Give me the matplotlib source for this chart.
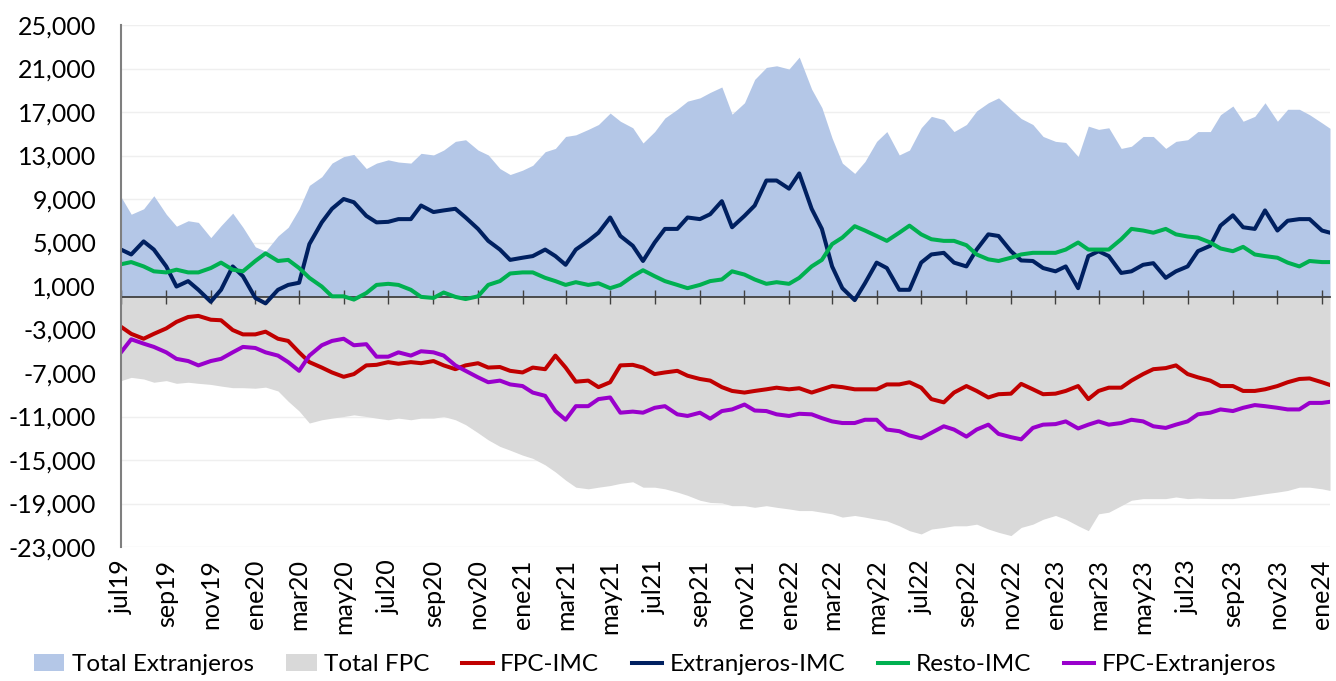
import pandas as pd
import matplotlib
matplotlib.use('Agg')
import matplotlib.pyplot as plt
from matplotlib.ticker import FuncFormatter

plt.rcParams['font.family'] = ['Lato', 'DejaVu Sans']

# quincenal (1 y 15 de cada mes) desde jul19 + último dato
fechas = list(pd.date_range('2019-07-01', '2024-01-01', freq='SMS')) + [pd.Timestamp('2024-01-12')]

total_ext = [
    9200, 7600, 8100, 9300, 7600, 6500, 7000, 6850, 5450, 6550, 7700, 6400,
    4600, 4200, 5600, 6400, 8100, 10250, 11050, 12300, 12900, 13100, 11800, 12300,
    12600, 12400, 12300, 13200, 13050, 13500, 14300, 14450, 13500, 13050, 11800, 11250,
    11650, 12100, 13350, 13650, 14750, 14900, 15400, 15850, 16900, 16150, 15550, 14150,
    15200, 16450, 17250, 18000, 18300, 18800, 19300, 16800, 17850, 20000, 21100, 21250,
    20950, 22050, 19100, 17400, 14600, 12300, 11350, 12450, 14300, 15200, 13050, 13500,
    15550, 16600, 16300, 15200, 15850, 17100, 17850, 18300, 17250, 16400, 15850, 14750,
    14300, 14200, 12900, 15700, 15400, 15550, 13650, 13850, 14750, 14750, 13650, 14300,
    14450, 15200, 15200, 16750, 17550, 16150, 16600, 17850, 16150, 17250, 17250, 16750,
    16000, 15500]

total_fpc = [
    -7700, -7400, -7550, -7850, -7700, -7950, -7850, -7950, -8050, -8200, -8350, -8350,
    -8400, -8300, -8650, -9600, -10500, -11600, -11300, -11150, -11000, -10850, -11000, -11150,
    -11300, -11150, -11300, -11150, -11150, -11000, -11300, -11750, -12500, -13150, -13750, -14100,
    -14550, -14850, -15450, -16100, -16850, -17500, -17650, -17500, -17350, -17150, -17000, -17500,
    -17500, -17650, -17950, -18250, -18700, -18900, -18950, -19200, -19200, -19350, -19200, -19350,
    -19500, -19650, -19650, -19800, -19950, -20250, -20100, -20250, -20450, -20600, -21050, -21500,
    -21800, -21350, -21200, -21050, -21050, -20900, -21350, -21650, -21950, -21200, -20900, -20450,
    -20100, -20450, -21050, -21500, -19950, -19800, -19200, -18700, -18550, -18550, -18550, -18400,
    -18550, -18500, -18550, -18550, -18550, -18400, -18250, -18100, -17950, -17800, -17500, -17500,
    -17650, -17800]

fpc_imc = [
    -2750, -3400, -3850, -3400, -2900, -2300, -1850, -1750, -2100, -2150, -3050, -3450,
    -3450, -3200, -3850, -4050, -5100, -6000, -6500, -6950, -7350, -7100, -6300, -6250,
    -6000, -6150, -6000, -6100, -5900, -6300, -6650, -6300, -6100, -6500, -6450, -6800,
    -6950, -6500, -6650, -5400, -6500, -7800, -7700, -8300, -7850, -6300, -6250, -6500,
    -7100, -6950, -6800, -7250, -7550, -7700, -8300, -8650, -8800, -8650, -8500, -8350,
    -8500, -8400, -8800, -8500, -8200, -8300, -8500, -8500, -8500, -8050, -8050, -7850,
    -8350, -9400, -9700, -8800, -8200, -8650, -9250, -8950, -8900, -8000, -8500, -8950,
    -8900, -8650, -8200, -9400, -8650, -8350, -8350, -7700, -7100, -6650, -6550, -6300,
    -7100, -7400, -7700, -8200, -8200, -8650, -8650, -8500, -8200, -7850, -7550, -7500,
    -7850, -8100]

ext_imc = [
    4350, 3900, 5100, 4350, 2800, 950, 1450, 650, -450, 650, 2800, 1900,
    -100, -600, 650, 1100, 1300, 4850, 6850, 8100, 9000, 8700, 7450, 6850,
    6900, 7150, 7150, 8400, 7800, 7950, 8100, 7300, 6250, 5150, 4350, 3400,
    3600, 3750, 4350, 3750, 2950, 4350, 5150, 5900, 7300, 5600, 4700, 3300,
    5000, 6250, 6250, 7300, 7150, 7600, 8800, 6400, 7450, 8400, 10700, 10700,
    9950, 11350, 8100, 6250, 2800, 800, -300, 1250, 3150, 2650, 650, 650,
    3150, 3900, 4050, 3150, 2800, 4350, 5750, 5600, 4200, 3350, 3300, 2650,
    2350, 2800, 800, 3750, 4200, 3750, 2200, 2350, 2950, 3100, 1750, 2350,
    2800, 4200, 4700, 6550, 7500, 6400, 6250, 7950, 6100, 7000, 7150, 7150,
    6100, 5900]

resto_imc = [
    3000, 3200, 2800, 2350, 2250, 2500, 2250, 2250, 2650, 3150, 2500, 2350,
    3300, 4000, 3300, 3400, 2650, 1750, 950, 50, 50, -250, 350, 1100,
    1200, 1100, 650, 0, -100, 400, 0, -200, 50, 1100, 1450, 2150,
    2250, 2250, 1750, 1450, 1100, 1350, 1100, 1250, 800, 1100, 1900, 2450,
    1900, 1450, 1100, 800, 1100, 1450, 1600, 2350, 2050, 1600, 1200, 1350,
    1200, 1750, 2800, 3400, 4850, 5450, 6500, 6100, 5600, 5150, 5900, 6550,
    5750, 5300, 5150, 5150, 4750, 3900, 3450, 3300, 3600, 3900, 4050, 4050,
    4050, 4350, 5000, 4350, 4350, 4350, 5300, 6250, 6100, 5900, 6250, 5750,
    5550, 5450, 5000, 4450, 4200, 4600, 3900, 3750, 3600, 3150, 2800, 3300,
    3200, 3200]

fpc_ext = [
    -5100, -3900, -4300, -4600, -5100, -5700, -5900, -6300, -5900, -5700, -5100, -4600,
    -4700, -5100, -5400, -6000, -6800, -5400, -4450, -4050, -3850, -4450, -4350, -5500,
    -5500, -5100, -5400, -5000, -5100, -5400, -6300, -6800, -7400, -7850, -7700, -8050,
    -8200, -8800, -9100, -10500, -11300, -10050, -10050, -9400, -9250, -10650, -10550, -10650,
    -10200, -10050, -10800, -10950, -10650, -11200, -10500, -10350, -9900, -10450, -10500, -10800,
    -10950, -10750, -10800, -11150, -11450, -11600, -11600, -11300, -11300, -12200, -12350, -12750,
    -13000, -12500, -11900, -12200, -12850, -12200, -11750, -12600, -12900, -13100, -12050, -11750,
    -11700, -11450, -12100, -11750, -11450, -11750, -11600, -11300, -11450, -11900, -12050, -11750,
    -11450, -10800, -10650, -10350, -10500, -10200, -9950, -10050, -10200, -10350, -10350, -9750,
    -9750, -9650]

meses_es = {1: 'ene', 3: 'mar', 5: 'may', 7: 'jul', 9: 'sep', 11: 'nov'}
ticks = pd.date_range('2019-07-01', '2024-01-01', freq='2MS')
etiquetas = [f"{meses_es[t.month]}{t.strftime('%y')}" for t in ticks]

fig = plt.figure(figsize=(13.36, 6.81), dpi=100)
ax = fig.add_axes([121 / 1336, 1 - 547 / 681, 1209 / 1336, 522 / 681])

ax.fill_between(fechas, 0, total_ext, color='#B4C7E7', lw=0, label='Total Extranjeros')
ax.fill_between(fechas, 0, total_fpc, color='#D9D9D9', lw=0, label='Total FPC')
ax.plot(fechas, fpc_imc, color='#C00000', lw=2.9, label='FPC-IMC')
ax.plot(fechas, ext_imc, color='#002060', lw=2.9, label='Extranjeros-IMC')
ax.plot(fechas, resto_imc, color='#00B050', lw=2.9, label='Resto-IMC')
ax.plot(fechas, fpc_ext, color='#9900CC', lw=2.9, label='FPC-Extranjeros')

ax.set_ylim(-23000, 25000)
ax.set_yticks(range(-23000, 25001, 4000))
ax.yaxis.set_major_formatter(FuncFormatter(lambda v, p: f'{v:,.0f}'))
ax.set_xlim(fechas[0], fechas[-1])
ax.set_xticks(ticks, etiquetas, rotation=90)

ax.grid(axis='y', color='#EFEFEF', lw=1)
ax.set_axisbelow(True)
for s in ['top', 'right', 'bottom']:
    ax.spines[s].set_visible(False)
ax.spines['left'].set_color('#7F7F7F')
ax.spines['left'].set_linewidth(1.5)
ax.tick_params(axis='y', length=0, pad=18, labelsize=18)
ax.tick_params(axis='x', length=0, pad=9, labelsize=18)

# eje horizontal en cero con sus marcas
eje0 = ax.secondary_xaxis(23 / 48)
eje0.set_xticks(ticks, [''] * len(ticks))
eje0.tick_params(direction='inout', length=10, width=1, color='#404040')
for s in eje0.spines.values():
    s.set_color('#404040')
    s.set_linewidth(1.3)
eje0.set_zorder(1.5)

fig.legend(loc='center left', bbox_to_anchor=(34 / 1336, 0.024), ncol=6, frameon=False,
           fontsize=17.5, handlelength=1.25, handletextpad=0.3, columnspacing=1.35,
           borderpad=0, borderaxespad=0)

plt.savefig('out.png', dpi=100)
